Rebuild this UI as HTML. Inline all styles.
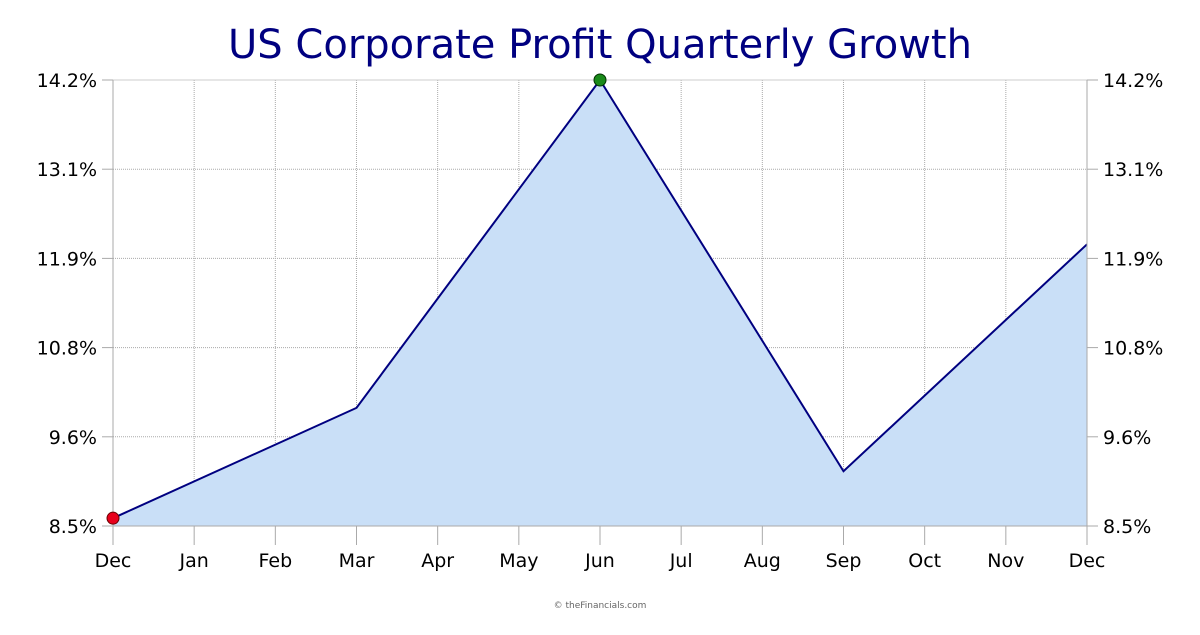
<!DOCTYPE html>
<html><head><meta charset="utf-8">
<style>
html,body{margin:0;padding:0;background:#fff;}
svg text{font-family:"DejaVu Sans","Liberation Sans",sans-serif;}
</style></head>
<body>
<svg id="chart" width="1200" height="630" xmlns="http://www.w3.org/2000/svg">
<text x="600" y="58" text-anchor="middle" font-size="40" fill="#000080">US Corporate Profit Quarterly Growth</text>
<g id="grid"></g>
<g id="marks"></g>
<g id="axes"></g>
<text x="600" y="608" text-anchor="middle" font-size="9" fill="#666">© theFinancials.com</text>
</svg>
<script>
const months = ["Dec","Jan","Feb","Mar","Apr","May","Jun","Jul","Aug","Sep","Oct","Nov","Dec"];
const pointIdx = [0,3,6,9,12];
const pointVals = [8.6,10.01,14.2,9.2,12.1];
const yTicks = [8.5,9.64,10.78,11.92,13.06,14.2];
const yTickLabels = ["8.5%","9.6%","10.8%","11.9%","13.1%","14.2%"];

const X0=113,X1=1087,Y0=526,Y1=80,yMin=8.5,yMax=14.2;
const xs=i=>X0+(X1-X0)*i/(months.length-1);
const ys=v=>Y0-(v-yMin)/(yMax-yMin)*(Y0-Y1);
const NS="http://www.w3.org/2000/svg";
function mk(tag,attrs,parent){const e=document.createElementNS(NS,tag);for(const k in attrs)e.setAttribute(k,attrs[k]);parent.appendChild(e);return e;}
const grid=document.getElementById('grid'),marks=document.getElementById('marks'),axes=document.getElementById('axes');

yTicks.forEach((t,i)=>{
  const y=ys(t);
  if(i>0&&i<yTicks.length-1){const g=mk('line',{x1:X0,x2:X1,y1:y,y2:y,stroke:'#aaa','stroke-dasharray':'1,1'},grid);
  
  }
  const tl=mk('line',{x1:102,x2:X0,y1:y,y2:y,stroke:'#aaa'},axes);
  
  
  const tr=mk('line',{x1:X1,x2:1098,y1:y,y2:y,stroke:'#aaa'},axes);
  
  
  const l=mk('text',{x:97,y:y+7,'text-anchor':'end','font-size':19,fill:'#000'},axes);l.textContent=yTickLabels[i];
  
  
  const r=mk('text',{x:1103,y:y+7,'text-anchor':'start','font-size':19,fill:'#000'},axes);r.textContent=yTickLabels[i];
  
  
});
months.forEach((m,i)=>{
  const x=xs(i);
  if(i>0&&i<months.length-1){const g=mk('line',{x1:x,x2:x,y1:Y1,y2:Y0,stroke:'#aaa','stroke-dasharray':'1,1'},grid);
  
  }
  const t=mk('line',{x1:x,x2:x,y1:Y0,y2:545,stroke:'#aaa'},axes);
  
  
  const l=mk('text',{x:x,y:567,'text-anchor':'middle','font-size':19,fill:'#000'},axes);l.textContent=m;
  
  
});
const topBorder=mk('line',{x1:X0,x2:X1,y1:Y1,y2:Y1,stroke:'#ccc'},grid);



const pts=pointIdx.map((i,k)=>xs(i)+','+ys(pointVals[k]));
const area=mk('polygon',{points:xs(pointIdx[0])+','+Y0+' '+pts.join(' ')+' '+xs(pointIdx[pointIdx.length-1])+','+Y0,fill:'#c9dff7'},marks);


const line=mk('polyline',{points:pts.join(' '),fill:'none',stroke:'#000080','stroke-width':2},marks);



const ax=mk('line',{x1:X0,x2:X0,y1:Y1,y2:Y0,stroke:'#aaa'},axes);


const ax2=mk('line',{x1:X1,x2:X1,y1:Y1,y2:Y0,stroke:'#aaa'},axes);


const ax3=mk('line',{x1:X0,x2:X1,y1:Y0,y2:Y0,stroke:'#aaa'},axes);



let minK=0,maxK=0;pointVals.forEach((v,k)=>{if(v<pointVals[minK])minK=k;if(v>pointVals[maxK])maxK=k;});
const mn=mk('circle',{cx:xs(pointIdx[minK]),cy:ys(pointVals[minK]),r:6,fill:'#e8001c',stroke:'#600',"stroke-width":1},axes);


const mx=mk('circle',{cx:xs(pointIdx[maxK]),cy:ys(pointVals[maxK]),r:6,fill:'#1a8a1a',stroke:'#030',"stroke-width":1},axes);


</script>
</body></html>
